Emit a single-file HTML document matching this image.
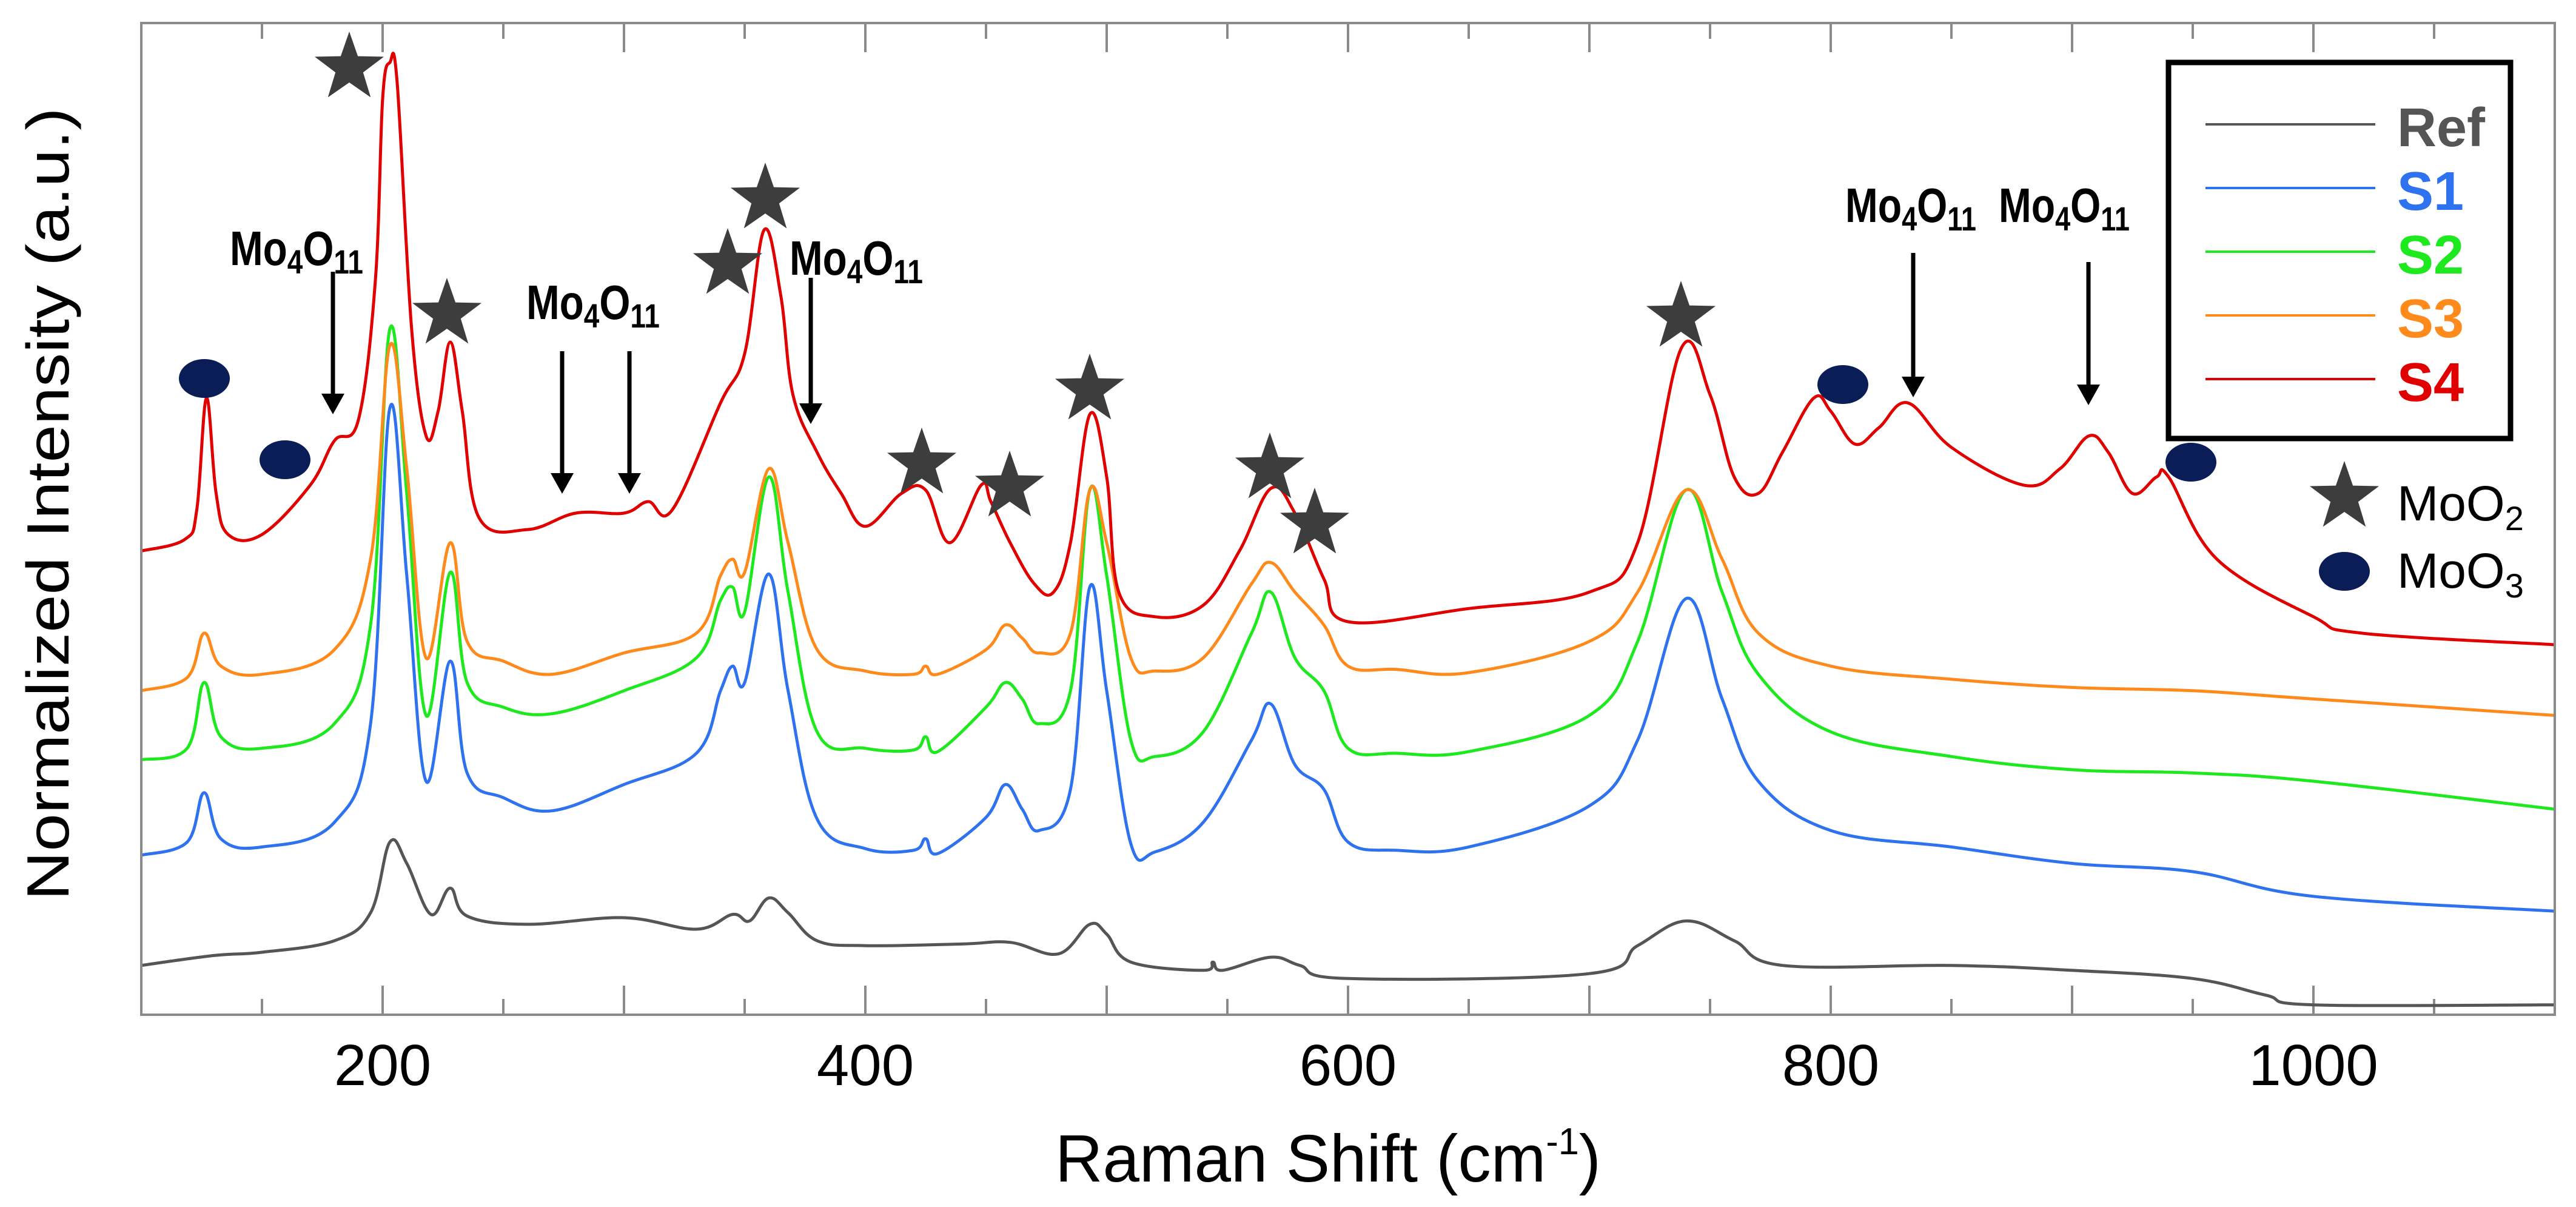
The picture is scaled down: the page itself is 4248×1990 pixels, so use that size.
<!DOCTYPE html>
<html><head><meta charset="utf-8"><style>
html,body{margin:0;padding:0;background:#fff;}
svg{display:block;}
text{font-family:"Liberation Sans",sans-serif;}
</style></head><body>
<svg id="chart" xmlns="http://www.w3.org/2000/svg" width="4248" height="1990" viewBox="0 0 4248 1990">
<rect x="0" y="0" width="4248" height="1990" fill="#fff"/>
<g id="ticks"></g>
<g id="series"></g>
<rect x="233" y="38" width="3980" height="1635" fill="none" stroke="#8a8a8a" stroke-width="4"/>
<g id="xlabels"></g>
<text x="2190" y="1948" text-anchor="middle" font-size="110" fill="#000" textLength="900" lengthAdjust="spacingAndGlyphs">Raman Shift (cm<tspan dy="-45" font-size="62">-1</tspan><tspan dy="45">)</tspan></text>
<text transform="translate(113,831) rotate(-90)" text-anchor="middle" font-size="98" fill="#000" textLength="1307" lengthAdjust="spacingAndGlyphs">Normalized Intensity (a.u.)</text>
<g id="annot"></g>
<g>
<rect x="3576" y="103" width="564" height="620" fill="#fff" stroke="#000" stroke-width="9"/>
<g id="legendItems"></g>
</g>
</svg>
<script>
// ---- data ----
const refX=[100,130,150,180,195,203,210,220,228,235,260,300,330,345,352,360,368,380,400,440,460,480,493,500,510,540,544,548,568,580,600,700,720,740,760,780,850,900,950,980,1000,1100];
const refY=[30,36,38,45,62,105,92,61,77,60,55,59,52,61,57,71,62,45,42,43,44,37,55,49,32,27,32,27,35,30,22,25,42,57,45,30,30,27,22,12,6,6];
const sX=[100,119,126,133,150,180,195,203,210,218,228,235,250,270,300,330,340,345,350,360,368,380,400,420,425,430,450,458,465,472,485,493,500,510,520,540,560,568,578,590,600,620,650,700,720,740,755,770,800,850,900,950,1000,1100];
const s1Y=[97,105,135,107,102,117,177,369,267,142,215,147,132,124,140,159,197,212,202,268,197,119,101,100,107,98,120,140,125,112,137,260,197,104,99,117,167,189,152,137,105,100,102,127,167,253,192,142,112,102,92,87,72,63];
const s2Y=[155,162,202,169,162,177,237,417,317,182,269,202,187,183,197,217,252,260,245,327,257,172,162,161,169,160,187,202,192,177,197,319,267,167,157,172,232,257,217,197,162,159,160,182,227,319,257,207,172,157,149,147,142,125];
const s3Y=[197,205,232,212,207,222,277,407,332,217,287,227,215,207,220,232,267,277,269,332,287,222,209,207,212,207,222,237,229,220,232,319,287,217,209,217,262,275,257,237,212,210,208,227,257,319,277,232,212,204,199,197,192,182];
const s4X=[100,118,123,127,131,136,150,170,180,190,197,200,203,206,212,218,223,228,233,240,260,280,300,310,320,340,350,358,365,370,380,390,400,415,425,435,448,452,460,470,478,485,493,500,505,520,540,555,568,578,590,600,650,700,720,738,750,760,770,780,793,800,810,820,832,850,880,895,907,915,925,935,940,960,1000,1020,1100];
const s4Y=[282,289,307,375,317,292,292,322,349,362,447,557,579,567,417,352,367,409,367,302,295,305,305,312,307,372,402,477,437,377,342,317,297,317,319,287,322,312,287,262,257,287,365,327,257,242,249,282,320,305,265,239,247,257,287,405,377,327,317,342,375,367,347,357,372,345,322,332,352,342,317,327,327,277,242,232,225];
const seriesNames=["Ref","S1","S2","S3","S4"];
const xTickLabels=["200","400","600","800","1000"];
const xTickValues=[200,400,600,800,1000];

// ---- scales ----
const X0=100,X1=1100,PX0=233,PX1=4213,V0=0,V1=603,PY0=1673,PY1=38;
const sx=v=>PX0+(v-X0)/(X1-X0)*(PX1-PX0);
const sy=v=>PY0-(v-V0)/(V1-V0)*(PY0-PY1);
const NS="http://www.w3.org/2000/svg";
function mk(tag,attrs,parent){const e=document.createElementNS(NS,tag);for(const k in attrs)e.setAttribute(k,attrs[k]);parent.appendChild(e);return e;}

// ticks
const tg=document.getElementById('ticks');
for(let v=100;v<=1100;v+=50){
  const major=(v%100===0);const L=major?48:26;
  const b=mk('line',{x1:sx(v),x2:sx(v),y1:PY0,y2:PY0-L,stroke:'#8a8a8a','stroke-width':4},tg);
  
  
  const t=mk('line',{x1:sx(v),x2:sx(v),y1:PY1,y2:PY1+L,stroke:'#8a8a8a','stroke-width':4},tg);
  
  
}
const xl=document.getElementById('xlabels');
xTickValues.forEach((v,i)=>{
  const t=mk('text',{x:sx(v),y:1789,'text-anchor':'middle','font-size':96,fill:'#000'},xl);
  t.textContent=xTickLabels[i];
  
  
});

// series (cardinal smoothing)
function smoothPath(P){
  let d='M'+P[0][0].toFixed(1)+','+P[0][1].toFixed(1);
  const t=0.18;
  for(let i=0;i<P.length-1;i++){
    const p0=P[Math.max(0,i-1)],p1=P[i],p2=P[i+1],p3=P[Math.min(P.length-1,i+2)];
    const c1x=p1[0]+(p2[0]-p0[0])*t,c1y=p1[1]+(p2[1]-p0[1])*t;
    const c2x=p2[0]-(p3[0]-p1[0])*t,c2y=p2[1]-(p3[1]-p1[1])*t;
    d+=' C'+c1x.toFixed(1)+','+c1y.toFixed(1)+' '+c2x.toFixed(1)+','+c2y.toFixed(1)+' '+p2[0].toFixed(1)+','+p2[1].toFixed(1);
  }
  return d;
}
const sg=document.getElementById('series');
const colors={Ref:'#555555',S1:'#2f72f0',S2:'#1ee81e',S3:'#ff8a1c',S4:'#e00000'};
const data={Ref:[refX,refY],S1:[sX,s1Y],S2:[sX,s2Y],S3:[sX,s3Y],S4:[s4X,s4Y]};
seriesNames.forEach(n=>{
  const [xs,ys]=data[n];
  const pts=xs.map((x,i)=>[sx(x),sy(ys[i])]);
  const p=mk('path',{d:smoothPath(pts),fill:'none',stroke:colors[n],'stroke-width':5,'stroke-linejoin':'round'},sg);
  
  
});

// annotations
const ag=document.getElementById('annot');
function star(cx,cy,r,name){
  let pts=[];for(let i=0;i<10;i++){const a=-Math.PI/2+i*Math.PI/5;const rr=i%2?r*0.4:r;pts.push((cx+rr*Math.cos(a)).toFixed(1)+','+(cy+rr*Math.sin(a)).toFixed(1));}
  const s=mk('polygon',{points:pts.join(' '),fill:'#3d3d3d'},ag);
  
  
}
function ell(cx,cy,name){
  const e=mk('ellipse',{cx:cx,cy:cy,rx:42,ry:32,fill:'#0b1d56'},ag);
  
  
}
[[576,112],[737,518],[1200,436],[1262,328],[1520,765],[1665,803],[1797,643],[2094,773],[2168,864],[2772,523]].forEach(p=>star(p[0],p[1],60,'moo2-star-marker'));
[[337,624],[470,758],[3039,634],[3613,762]].forEach(p=>ell(p[0],p[1],'moo3-marker'));
function label(x,y,w,name){
  const t=mk('text',{x:x,y:y,'font-size':80,'font-weight':'bold',fill:'#000',textLength:w,lengthAdjust:'spacingAndGlyphs'},ag);
  t.innerHTML='Mo<tspan dy="14" font-size="56">4</tspan><tspan dy="-14">O</tspan><tspan dy="14" font-size="56">11</tspan>';
  
  
}
function arrow(x,y1,y2,name){
  const g=mk('g',{},ag);
  
  
  mk('line',{x1:x,x2:x,y1:y1,y2:y2-30,stroke:'#000','stroke-width':7},g);
  mk('polygon',{points:`${x-19},${y2-34} ${x+19},${y2-34} ${x},${y2}`,fill:'#000'},g);
}
label(379,437,220,'mo4o11-label');arrow(549,448,683,'mo4o11-arrow');
label(868,526,220,'mo4o11-label');arrow(927,579,814,'mo4o11-arrow');arrow(1038,579,814,'mo4o11-arrow');
label(1302,453,220,'mo4o11-label');arrow(1337,458,699,'mo4o11-arrow');
label(3043,366,216,'mo4o11-label');arrow(3155,417,655,'mo4o11-arrow');
label(3296,366,216,'mo4o11-label');arrow(3444,432,668,'mo4o11-arrow');

// legend
const lg=document.getElementById('legendItems');
const lineY=[205,310,415,520,625];
seriesNames.forEach((n,i)=>{
  const l=mk('line',{x1:3637,x2:3917,y1:lineY[i],y2:lineY[i],stroke:colors[n],'stroke-width':4},lg);
  
  
  const t=mk('text',{x:3953,y:lineY[i]+36,'font-size':90,'font-weight':'bold',fill:colors[n]},lg);
  t.textContent=n;
  
  
});
star(3866,820,60,'legend-moo2-star');
ell(3866,942,'legend-moo3-marker');
const m2=mk('text',{x:3953,y:858,'font-size':82,fill:'#000'},ag);
m2.innerHTML='MoO<tspan dy="16" font-size="56">2</tspan>';


const m3=mk('text',{x:3953,y:969,'font-size':82,fill:'#000'},ag);
m3.innerHTML='MoO<tspan dy="16" font-size="56">3</tspan>';


</script>
</body></html>
